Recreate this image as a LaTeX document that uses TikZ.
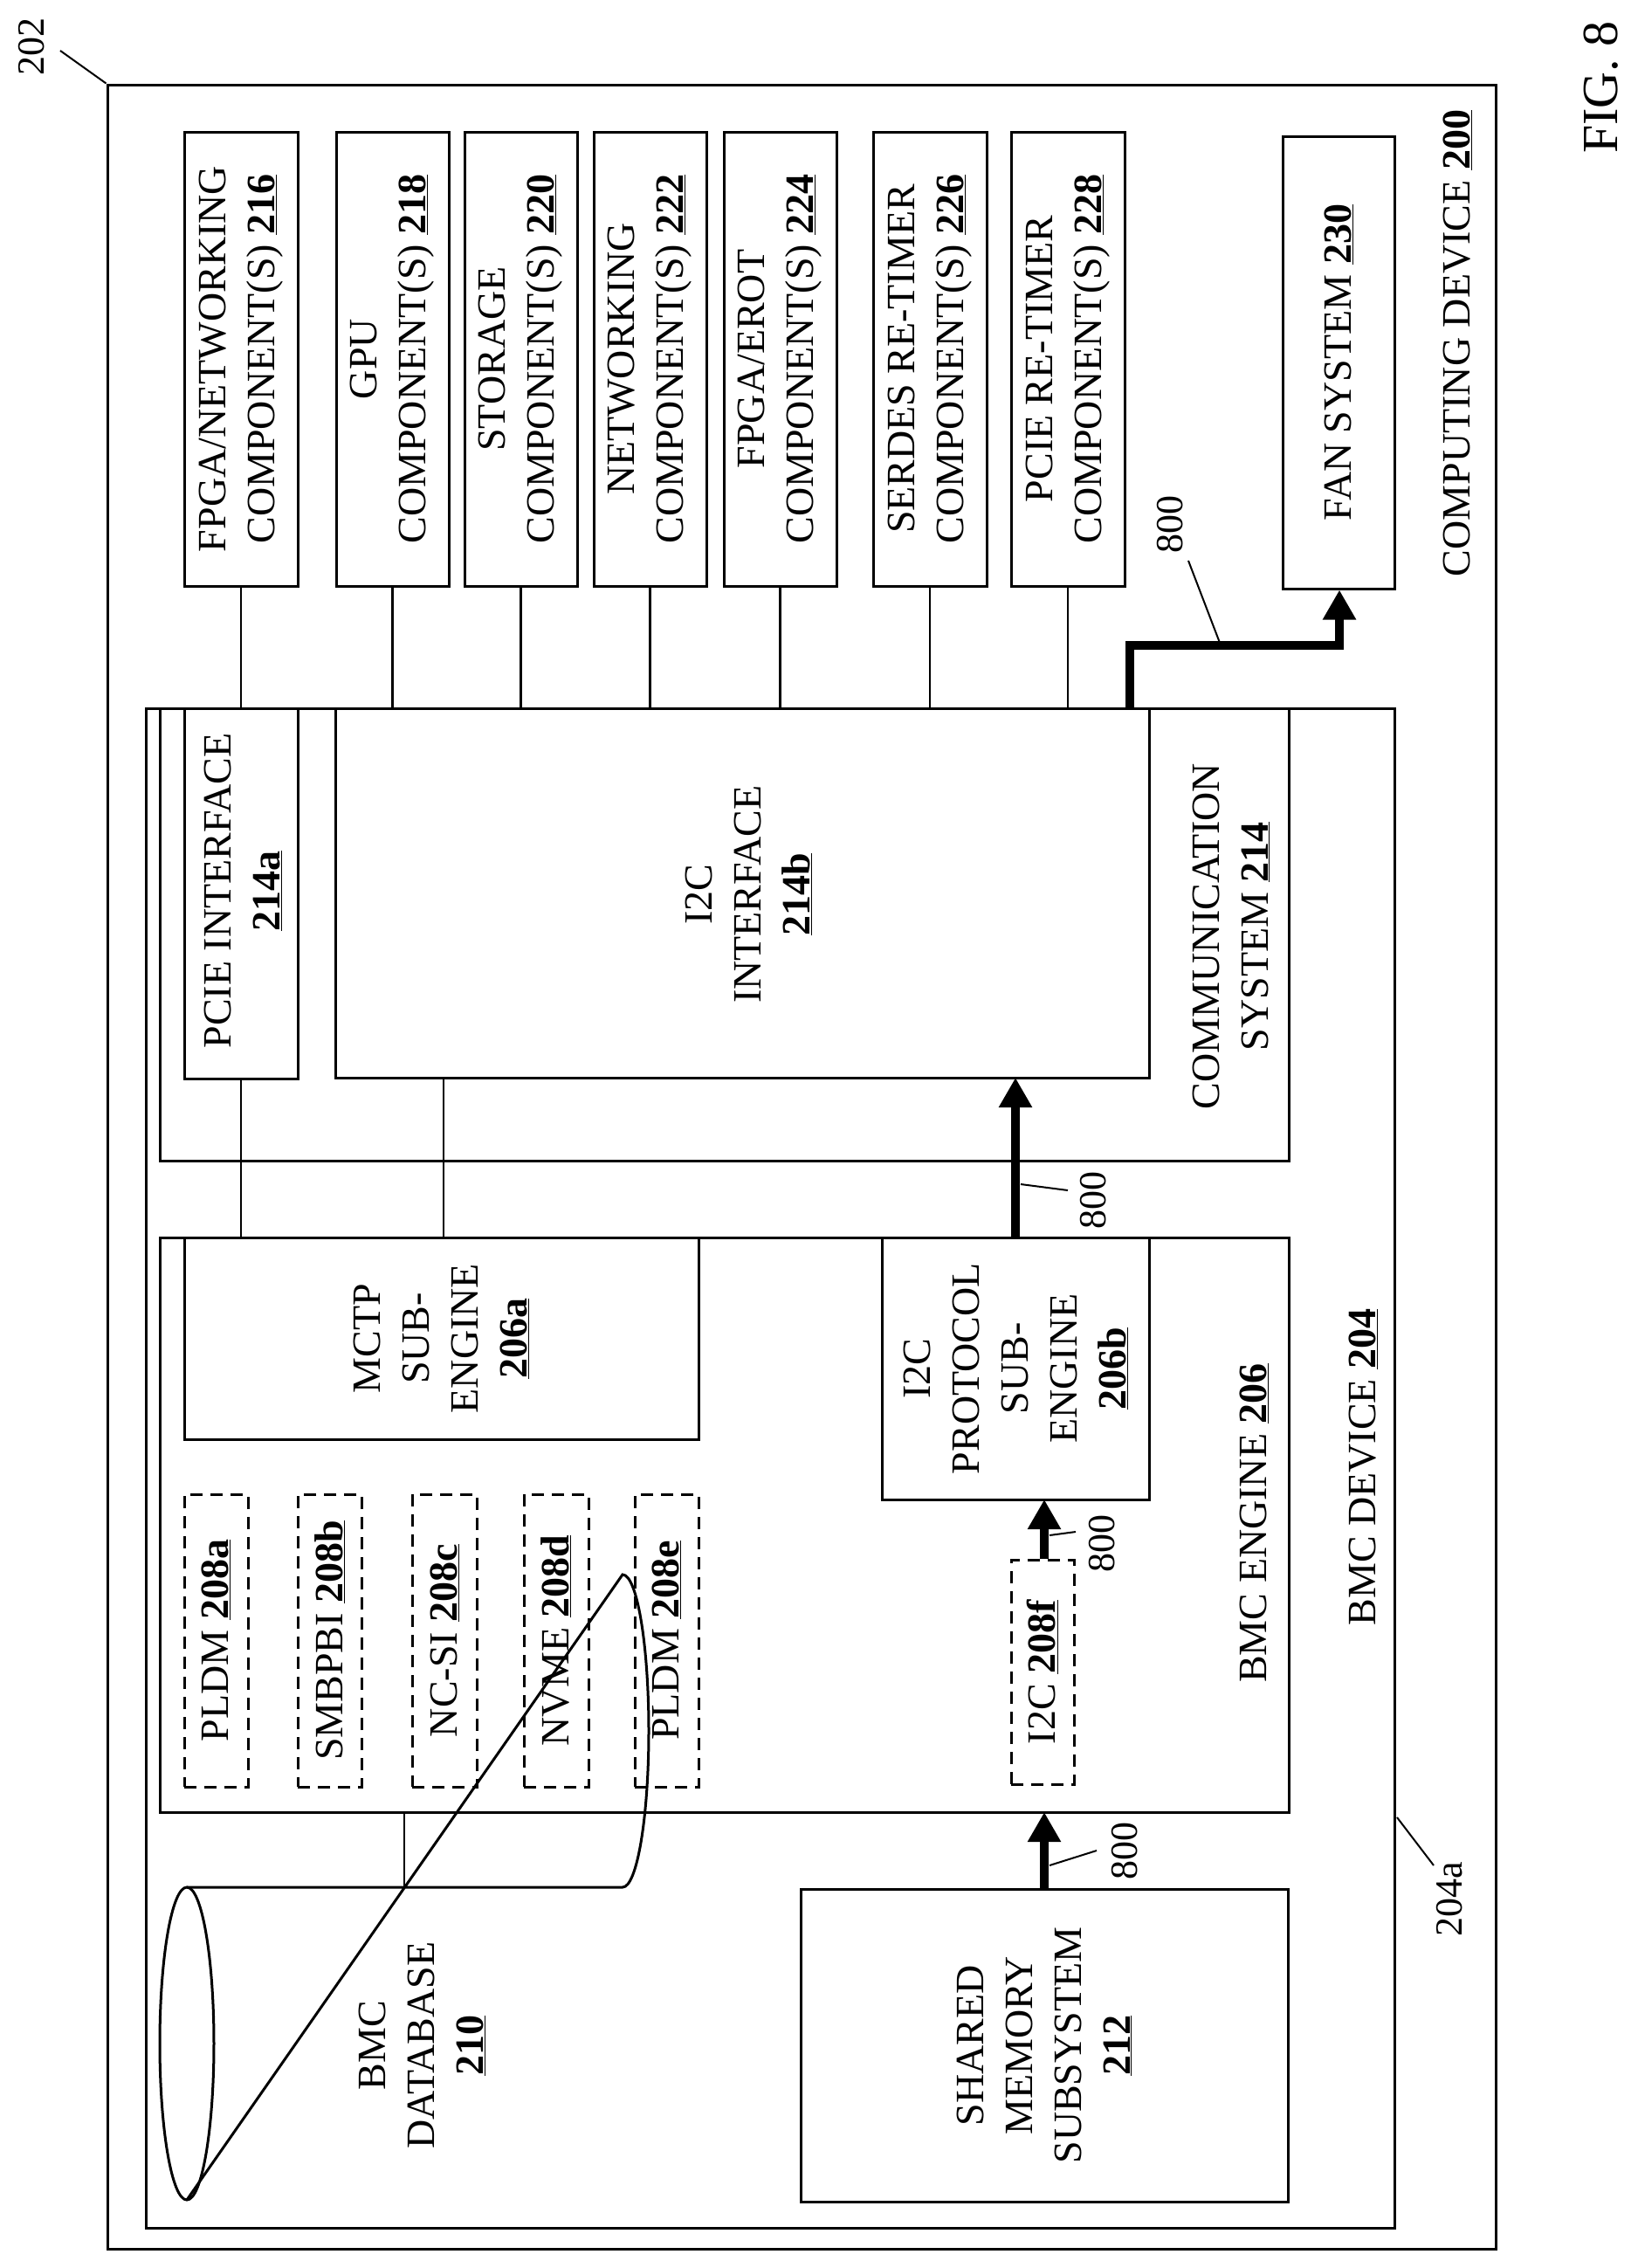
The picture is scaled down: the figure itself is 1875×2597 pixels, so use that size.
\documentclass[tikz,border=0pt]{standalone}
\usepackage{fontspec}
\setmainfont{Liberation Serif}
\usetikzlibrary{arrows.meta}
\newcommand{\nb}[1]{\underline{\textbf{#1}}}
\begin{document}
\begin{tikzpicture}[x=1pt,y=-1pt,
  box/.style={draw,line width=3pt,inner sep=0pt},
  dbox/.style={draw,line width=3pt,dash pattern=on 14pt off 9pt,inner sep=0pt},
  txt/.style={rotate=90,align=center,inner sep=0pt,font=\fontsize{46}{56}\selectfont},
  lab/.style={rotate=90,inner sep=0pt,font=\fontsize{44}{52}\selectfont},
  conn/.style={line width=2.5pt},
  lead/.style={line width=2pt},
  thick arrow/.style={line width=10pt,-{Triangle[length=34pt,width=36pt]}}]
\useasboundingbox (0,0) rectangle (1875,2597);
\def\bx#1#2#3#4#5{\node[box,minimum width={#3-#2},minimum height={#5-#4}] (#1) at ({(#2+#3)/2},{(#4+#5)/2}) {};}
\def\dbx#1#2#3#4#5{\node[dbox,minimum width={#3-#2},minimum height={#5-#4}] (#1) at ({(#2+#3)/2},{(#4+#5)/2}) {};}
% containers
\bx{outer}{123}{1713}{97}{2575}
\bx{bmc}{167}{1597}{811}{2551}
\bx{comm}{183}{1476}{811}{1329}
\bx{pcie}{211}{341}{811}{1235}
\bx{iface}{384}{1316}{811}{1234}
\bx{engine}{183}{1476}{1417}{2075}
\bx{mctp}{211}{800}{1417}{1648}
\bx{proto}{1010}{1316}{1417}{1717}
\bx{shared}{917}{1475}{2163}{2521}
% components
\bx{c216}{211}{341}{151}{671}
\bx{c218}{385}{514}{151}{671}
\bx{c220}{532}{661}{151}{671}
\bx{c222}{680}{809}{151}{671}
\bx{c224}{829}{958}{151}{671}
\bx{c226}{1000}{1130}{151}{671}
\bx{c228}{1158}{1288}{151}{671}
\bx{fan}{1469}{1597}{156}{674}
% dashed
\dbx{d208a}{211}{284}{1711}{2046}
\dbx{d208b}{341}{414}{1711}{2046}
\dbx{d208c}{472}{546}{1711}{2046}
\dbx{d208d}{600}{674}{1711}{2046}
\dbx{d208e}{727}{800}{1711}{2046}
\dbx{d208f}{1158}{1230}{1786}{2043}
% database cylinder
\node[inner sep=0pt,minimum width=560,minimum height=358] (db) at (463,2340) {};
\draw[line width=3pt] (214,2340) ellipse [x radius=31,y radius=179];
\draw[line width=3pt] (214,2161) -- (713,2161) arc[start angle=-90,end angle=90,x radius=30,y radius=-179] -- (214,2519);
% texts
\node[txt] (t216) at (c216) {FPGA/NETWORKING\\COMPONENT(S) \nb{216}};
\node[txt] (t218) at (c218) {GPU\\COMPONENT(S) \nb{218}};
\node[txt] (t220) at (c220) {STORAGE\\COMPONENT(S) \nb{220}};
\node[txt] (t222) at (c222) {NETWORKING\\COMPONENT(S) \nb{222}};
\node[txt] (t224) at (c224) {FPGA/EROT\\COMPONENT(S) \nb{224}};
\node[txt] (t226) at (c226) {SERDES RE-TIMER\\COMPONENT(S) \nb{226}};
\node[txt] (t228) at (c228) {PCIE RE-TIMER\\COMPONENT(S) \nb{228}};
\node[txt] (tfan) at (fan) {FAN SYSTEM \nb{230}};
\node[txt] (tcomp) at (1669,393) {COMPUTING DEVICE \nb{200}};
\node[txt] (tcomm) at (1410,1072) {COMMUNICATION\\SYSTEM \nb{214}};
\node[txt] (tpcie) at (278,1020) {PCIE INTERFACE\\\nb{214a}};
\node[txt] (tiface) at (857,1024) {I2C\\INTERFACE\\\nb{214b}};
\node[txt] (tmctp) at (mctp) {MCTP\\SUB-\\ENGINE\\\nb{206a}};
\node[txt] (tproto) at (proto) {I2C\\PROTOCOL\\SUB-\\ENGINE\\\nb{206b}};
\node[txt] (tengine) at (1436,1744) {BMC ENGINE \nb{206}};
\node[txt] (tbmc) at (1561,1680) {BMC DEVICE \nb{204}};
\node[txt] (ta) at (d208a) {PLDM \nb{208a}};
\node[txt] (tb) at (d208b) {SMBPBI \nb{208b}};
\node[txt] (tc) at (d208c) {NC-SI \nb{208c}};
\node[txt] (td) at (d208d) {NVME \nb{208d}};
\node[txt] (te) at (d208e) {PLDM \nb{208e}};
\node[txt] (tf) at (d208f) {I2C \nb{208f}};
\node[txt] (tdb) at (483,2342) {BMC\\DATABASE\\\nb{210}};
\node[txt] (tshared) at (shared) {SHARED\\MEMORY\\SUBSYSTEM\\\nb{212}};
\node[rotate=90,inner sep=0pt,font=\fontsize{58}{64}\selectfont] (fig) at (1834,100) {FIG. 8};
% plain connectors
\foreach \c in {c216,c218,c220,c222,c224,c226,c228}
  \draw[conn] (\c.south) -- (\c.south |- comm.north);
\draw[conn] (pcie.south) -- (pcie.south |- mctp.north);
\draw[conn] (iface.south -| 508,0) -- (508,1417);
\draw[conn] (engine.south -| db) -- (db.north);
% thick arrows (800)
\coordinate (fa1) at (1294,811);
\coordinate (fa2) at (1294,739);
\coordinate (fa3) at (1534,739);
\draw[thick arrow] (fa1) -- (fa2) -- (fa3) -- (fa3 |- fan.south);
\draw[thick arrow] (proto.north -| 1163,0) -- (1163,1234);
\draw[thick arrow] (d208f.north -| 1196,0) -- (1196,1717);
\draw[thick arrow] (shared.north -| 1196,0) -- (1196,2075);
% reference labels
\node[lab] (l800a) at (1340,600) {800};
\draw[lead] (1361,642) -- (1397,736);
\node[lab] (l800b) at (1252,1374) {800};
\draw[lead] (1169,1356) -- (1223,1363);
\node[lab] (l800c) at (1262,1767) {800};
\draw[lead] (1202,1758) -- (1232,1754);
\node[lab] (l800d) at (1288,2119) {800};
\draw[lead] (1202,2136) -- (1256,2119);
\node[lab] (l202) at (36,53) {202};
\draw[lead] (69,58) -- (outer.north west);
\node[lab] (l204a) at (1660,2175) {204a};
\draw[lead] (1600,2081) -- (1642,2136);
\end{tikzpicture}
\end{document}
